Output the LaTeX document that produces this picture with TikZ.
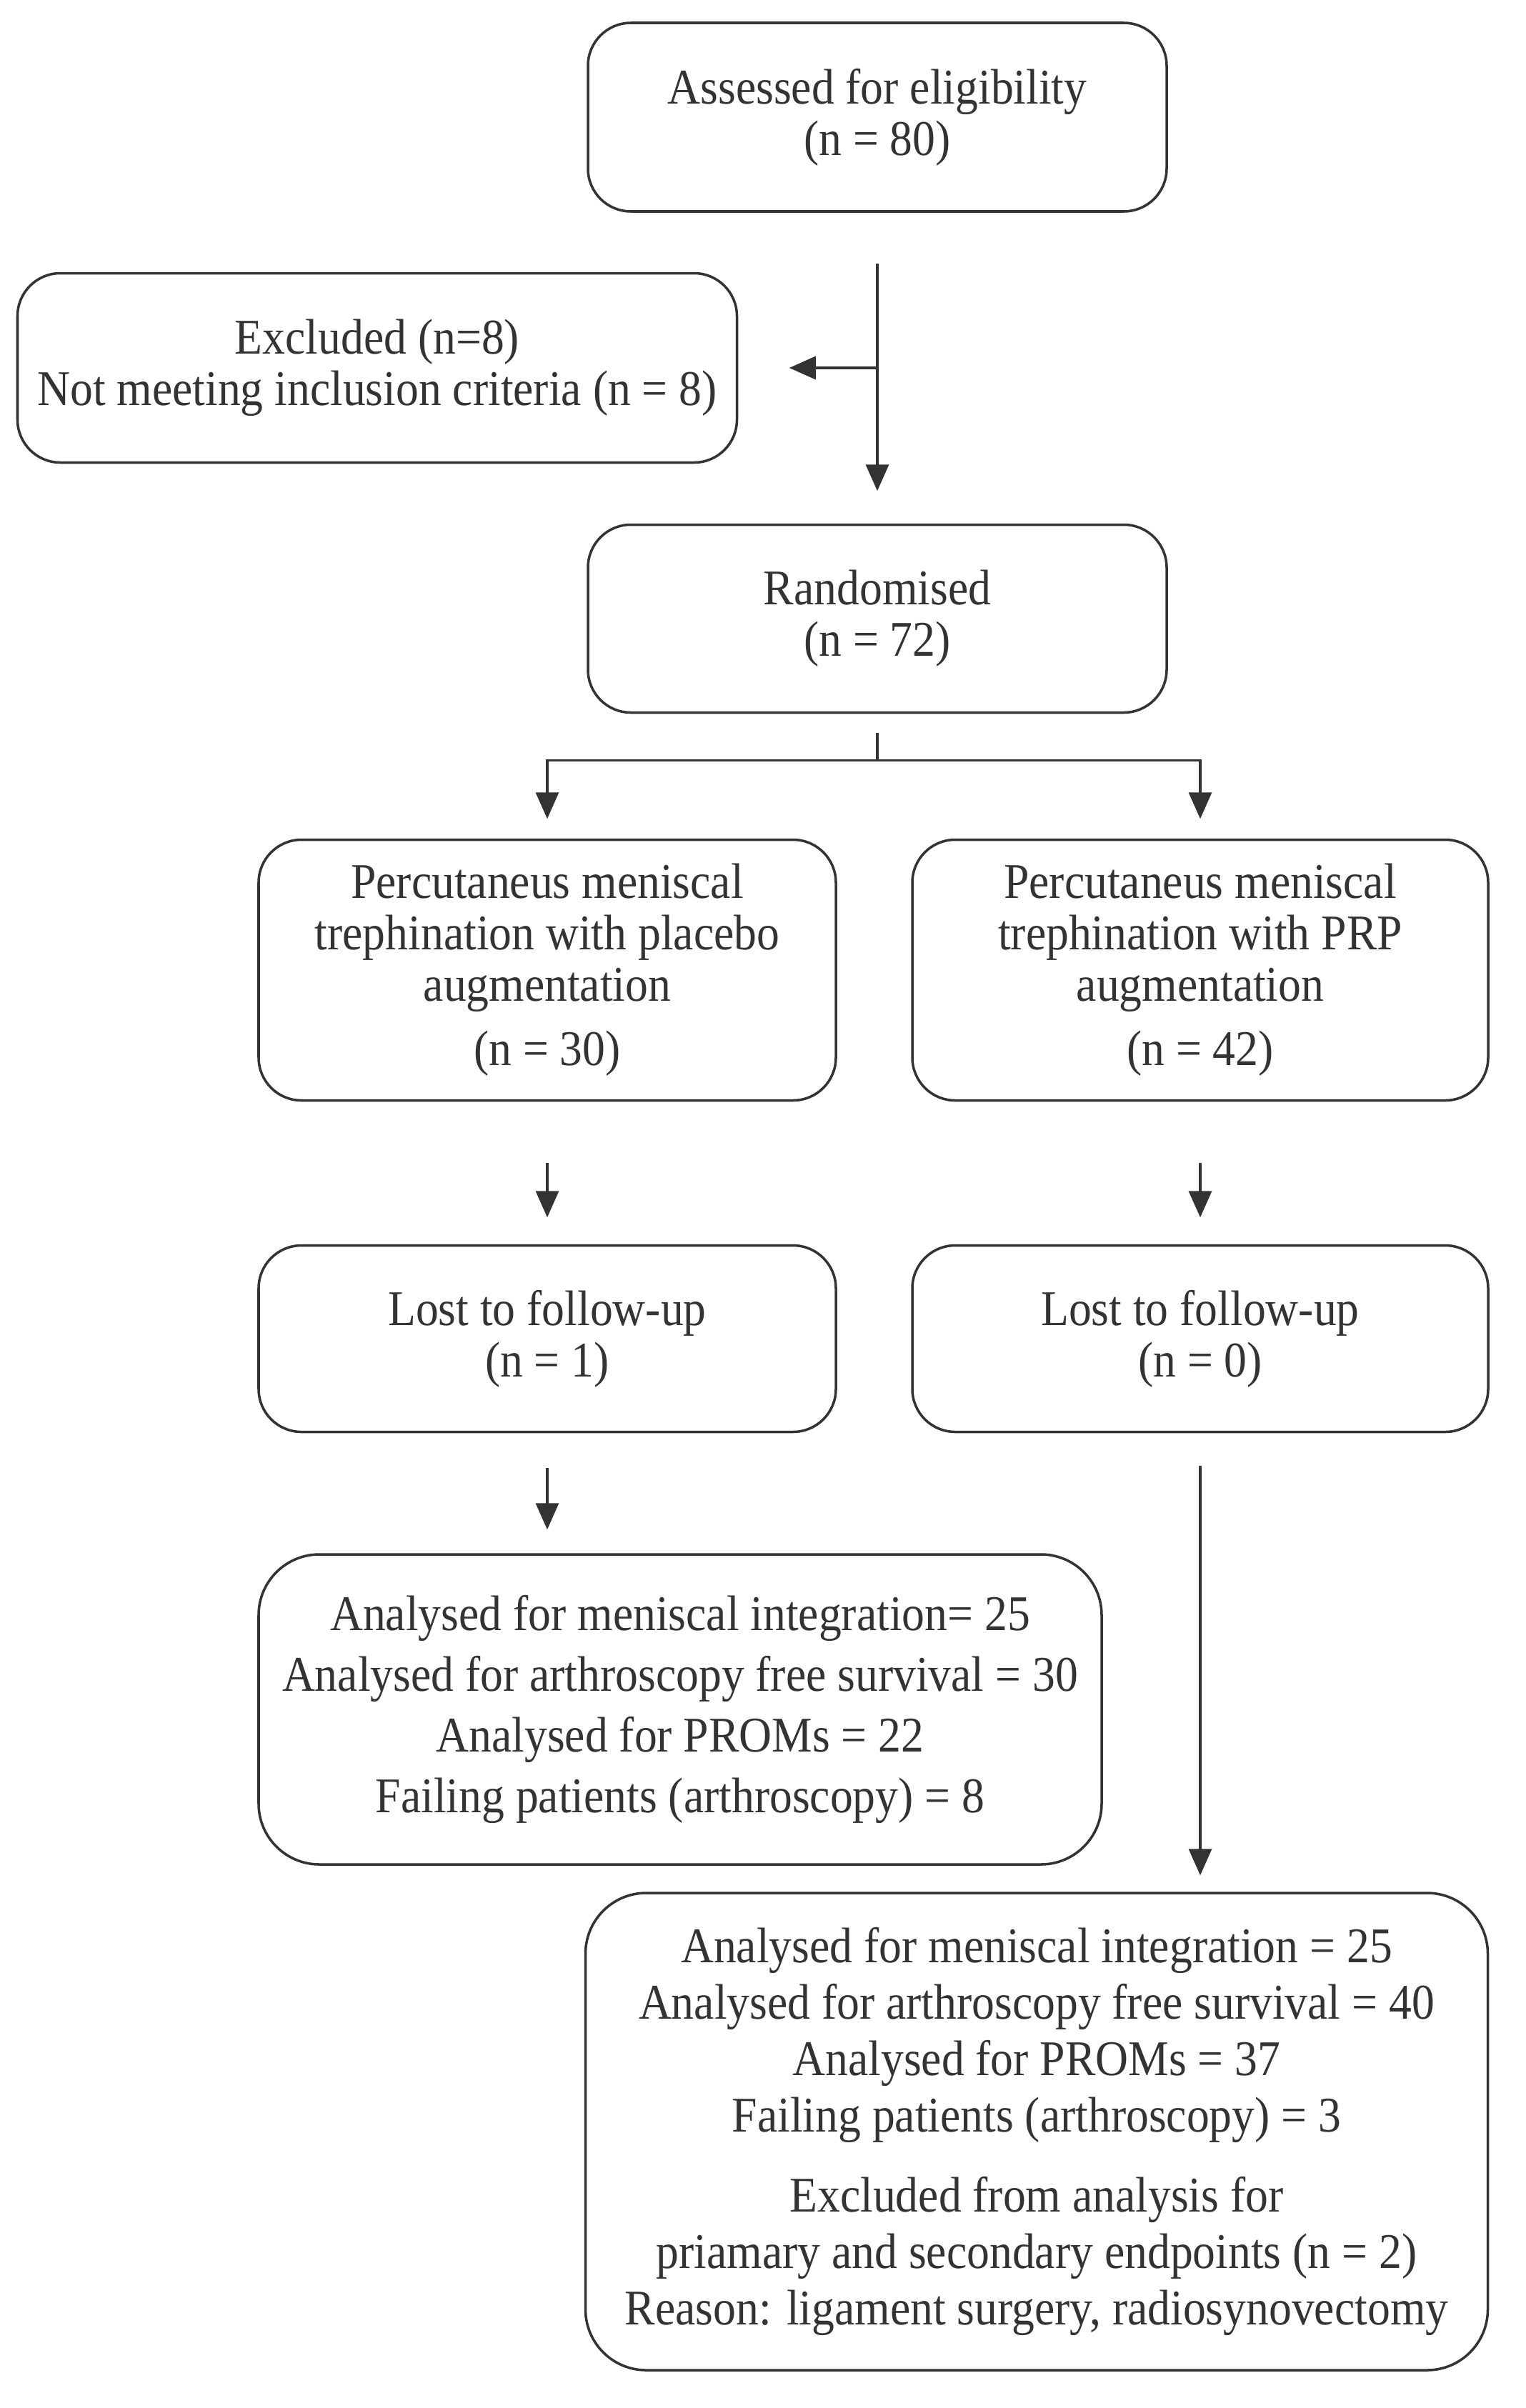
\documentclass[tikz,border=0pt]{standalone}
\usepackage{fontspec}
\setmainfont{Liberation Serif}[FakeStretch=0.91]
\usetikzlibrary{arrows.meta}
\definecolor{ink}{HTML}{333333}
\begin{document}
\begin{tikzpicture}[
  box/.style={draw=ink, line width=1pt, rounded corners=0.6cm, align=center, inner sep=0pt, text=ink,
    font=\fontsize{19.9pt}{20.5pt}\selectfont},
  bigbox/.style={box, rounded corners=0.85cm},
  arr/.style={draw=ink, line width=1pt, -{Triangle[length=0.37cm,width=0.32cm]}},
  ln/.style={draw=ink, line width=1pt}
]
\useasboundingbox (0,0) rectangle (21.35,-33.71);
\node[box, minimum width=8.10cm, minimum height=2.64cm] (A) at (12.28,-1.64) {Assessed for eligibility\\(n = 80)};
\node[box, minimum width=10.07cm, minimum height=2.65cm] (Excl) at (5.28,-5.15) {Excluded (n=8)\\Not meeting inclusion criteria (n = 8)};
\node[box, minimum width=8.10cm, minimum height=2.63cm] (R) at (12.28,-8.66) {Randomised\\(n = 72)};
\node[box, minimum width=8.08cm, minimum height=3.65cm] (PL) at (7.66,-13.58) {Percutaneus meniscal\\trephination with placebo\\augmentation\\[0.18cm](n = 30)};
\node[box, minimum width=8.06cm, minimum height=3.65cm] (PR) at (16.80,-13.58) {Percutaneus meniscal\\trephination with PRP\\augmentation\\[0.18cm](n = 42)};
\node[box, minimum width=8.08cm, minimum height=2.61cm] (LL) at (7.66,-18.74) {Lost to follow-up\\(n = 1)};
\node[box, minimum width=8.06cm, minimum height=2.61cm] (LR) at (16.80,-18.74) {Lost to follow-up\\(n = 0)};
\node[bigbox, minimum width=11.80cm, minimum height=4.34cm, font=\fontsize{19.9pt}{24.2pt}\selectfont] (AL) at (9.52,-23.93) {Analysed for meniscal integration= 25\\Analysed for arthroscopy free survival = 30\\Analysed for PROMs = 22\\Failing patients (arthroscopy) = 8};
\node[bigbox, minimum width=12.63cm, minimum height=6.68cm, font=\fontsize{19.9pt}{22.5pt}\selectfont] (AR) at (14.51,-29.84) {Analysed for meniscal integration = 25\\Analysed for arthroscopy free survival = 40\\Analysed for PROMs = 37\\Failing patients (arthroscopy) = 3\\[0.33cm]Excluded from analysis for\\priamary and secondary endpoints (n = 2)\\Reason: ligament surgery, radiosynovectomy};
% connectors
\draw[arr, shorten <=0.71cm, shorten >=0.455cm] (A.south) -- (R.north);
\coordinate (br) at (A.south |- Excl.east);
\draw[arr, shorten >=0.715cm] (br) -- (Excl.east);
\coordinate (split) at ([yshift=-0.65cm]R.south);
\draw[ln, shorten <=0.27cm] (R.south) -- (split);
\draw[arr, shorten >=0.275cm] (split) -| (PL.north);
\draw[arr, shorten >=0.275cm] (split) -| (PR.north);
\draw[arr, shorten <=0.855cm, shorten >=0.375cm] (PL.south) -- (LL.north);
\draw[arr, shorten <=0.855cm, shorten >=0.375cm] (PR.south) -- (LR.north);
\draw[arr, shorten <=0.485cm, shorten >=0.33cm] (LL.south) -- (AL.north -| LL.south);
\draw[arr, shorten <=0.455cm, shorten >=0.23cm] (LR.south) -- (AR.north -| LR.south);
\end{tikzpicture}
\end{document}
